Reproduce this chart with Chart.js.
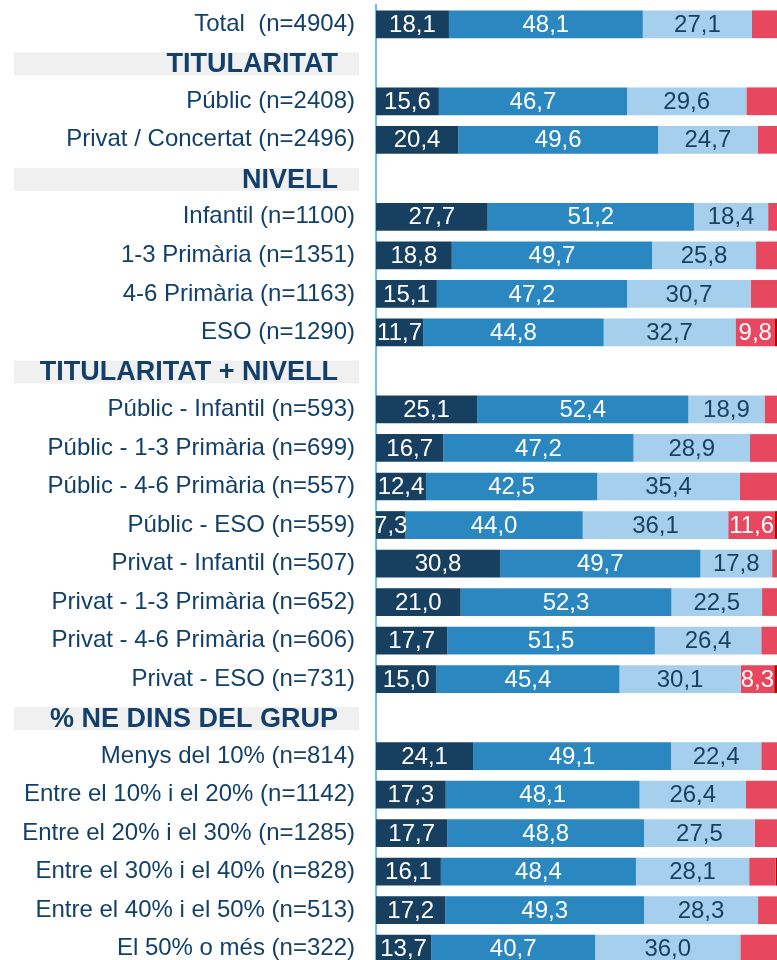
<!DOCTYPE html>
<html>
<head>
<meta charset="utf-8">
<script src="https://cdn.jsdelivr.net/npm/chart.js@4.4.1/dist/chart.umd.min.js"></script>
<style>
  html, body { margin: 0; padding: 0; background: #fff; overflow: hidden; }
  #wrap { width: 777px; height: 960px; overflow: hidden; position: relative; }
</style>
</head>
<body>
<div id="wrap"><canvas id="myChart" width="790" height="975"></canvas></div>
<script>
// categories (header rows are included, with no values)
const categories = [
  'Total  (n=4904)',
  'TITULARITAT',
  'Públic (n=2408)',
  'Privat / Concertat (n=2496)',
  'NIVELL',
  'Infantil (n=1100)',
  '1-3 Primària (n=1351)',
  '4-6 Primària (n=1163)',
  'ESO (n=1290)',
  'TITULARITAT + NIVELL',
  'Públic - Infantil (n=593)',
  'Públic - 1-3 Primària (n=699)',
  'Públic - 4-6 Primària (n=557)',
  'Públic - ESO (n=559)',
  'Privat - Infantil (n=507)',
  'Privat - 1-3 Primària (n=652)',
  'Privat - 4-6 Primària (n=606)',
  'Privat - ESO (n=731)',
  '% NE DINS DEL GRUP',
  'Menys del 10% (n=814)',
  'Entre el 10% i el 20% (n=1142)',
  'Entre el 20% i el 30% (n=1285)',
  'Entre el 30% i el 40% (n=828)',
  'Entre el 40% i el 50% (n=513)',
  'El 50% o més (n=322)'
];
const headers = ['TITULARITAT', 'NIVELL', 'TITULARITAT + NIVELL', '% NE DINS DEL GRUP'];

const serie1 = [18.1, null, 15.6, 20.4, null, 27.7, 18.8, 15.1, 11.7, null, 25.1, 16.7, 12.4, 7.3, 30.8, 21.0, 17.7, 15.0, null, 24.1, 17.3, 17.7, 16.1, 17.2, 13.7];
const serie2 = [48.1, null, 46.7, 49.6, null, 51.2, 49.7, 47.2, 44.8, null, 52.4, 47.2, 42.5, 44.0, 49.7, 52.3, 51.5, 45.4, null, 49.1, 48.1, 48.8, 48.4, 49.3, 40.7];
const serie3 = [27.1, null, 29.6, 24.7, null, 18.4, 25.8, 30.7, 32.7, null, 18.9, 28.9, 35.4, 36.1, 17.8, 22.5, 26.4, 30.1, null, 22.4, 26.4, 27.5, 28.1, 28.3, 36.0];
const serie4 = [6.3, null, 7.7, 4.9, null, 2.3, 5.3, 6.6, 9.8, null, 3.2, 6.7, 9.3, 11.6, 1.3, 3.8, 4.0, 8.3, null, 4.0, 7.8, 5.6, 6.6, 4.8, 9.2];
const serie5 = [0.4, null, 0.4, 0.4, null, 0.4, 0.4, 0.4, 1.0, null, 0.4, 0.5, 0.4, 1.0, 0.4, 0.4, 0.4, 1.2, null, 0.4, 0.4, 0.4, 0.8, 0.4, 0.4];
// red labels that are printed in the original
const serie4Labels = ['ESO (n=1290)', 'Públic - ESO (n=559)', 'Privat - ESO (n=731)'];

const colors = ['#173F5F', '#2A87C0', '#A5CFEC', '#E8485F', '#C00000'];
const textColors = ['#FFFFFF', '#FFFFFF', '#173F5F', '#FFFFFF', '#FFFFFF'];
const FONT = "'Liberation Sans', Arial, sans-serif";
const navy = '#12406A';

// grey header boxes + bold header text
const headerPlugin = {
  id: 'headerRows',
  afterDraw(chart) {
    const ctx = chart.ctx;
    const y = chart.scales.y;
    ctx.save();
    categories.forEach((c, i) => {
      if (!headers.includes(c)) return;
      const py = y.getPixelForValue(i) + 1;
      ctx.fillStyle = '#F0F0F0';
      ctx.fillRect(14, py - 11.5, 345, 23);
      ctx.fillStyle = navy;
      ctx.font = 'bold 27px ' + FONT;
      ctx.textAlign = 'right';
      ctx.textBaseline = 'middle';
      ctx.fillText(c, 338, py + 1);
    });
    ctx.restore();
  }
};

// value labels in the segments
const valuePlugin = {
  id: 'segmentValues',
  afterDatasetsDraw(chart) {
    const ctx = chart.ctx;
    ctx.save();
    ctx.font = '24px ' + FONT;
    ctx.textAlign = 'center';
    ctx.textBaseline = 'middle';
    chart.data.datasets.forEach((ds, di) => {
      if (di > 3) return;
      chart.getDatasetMeta(di).data.forEach((bar, i) => {
        const v = ds.data[i];
        if (v === null) return;
        if (di === 3 && !serie4Labels.includes(categories[i])) return;
        ctx.fillStyle = textColors[di];
        ctx.fillText(v.toFixed(1).replace('.', ','), (bar.x + bar.base) / 2, bar.y + 1);
      });
    });
    ctx.restore();
  }
};

const series = [serie1, serie2, serie3, serie4, serie5];

new Chart(document.getElementById('myChart'), {
  type: 'bar',
  data: {
    labels: categories,
    datasets: series.map((s, i) => ({
      label: 'serie' + (i + 1),
      data: s,
      backgroundColor: colors[i],
      borderWidth: 0,
      categoryPercentage: 1,
      barPercentage: 0.72
    }))
  },
  options: {
    indexAxis: 'y',
    responsive: false,
    animation: false,
    layout: { padding: { top: 5, bottom: 7, left: 0, right: 11 } },
    scales: {
      x: {
        stacked: true,
        display: false,
        min: 0,
        max: 100
      },
      y: {
        stacked: true,
        grid: { display: false, drawTicks: false },
        border: { display: true, color: '#6BBDF2', width: 2 },
        afterFit(scale) {
          scale.width = 376;
          scale.paddingTop = 0;
          scale.paddingBottom = 0;
        },
        ticks: {
          autoSkip: false,
          padding: 21,
          color: navy,
          font: { family: FONT, size: 24 },
          callback: function(value) {
            const l = this.getLabelForValue(value);
            return headers.includes(l) ? '' : l;
          }
        }
      }
    },
    plugins: {
      legend: { display: false },
      tooltip: { enabled: false }
    }
  },
  plugins: [headerPlugin, valuePlugin]
});
</script>
</body>
</html>
